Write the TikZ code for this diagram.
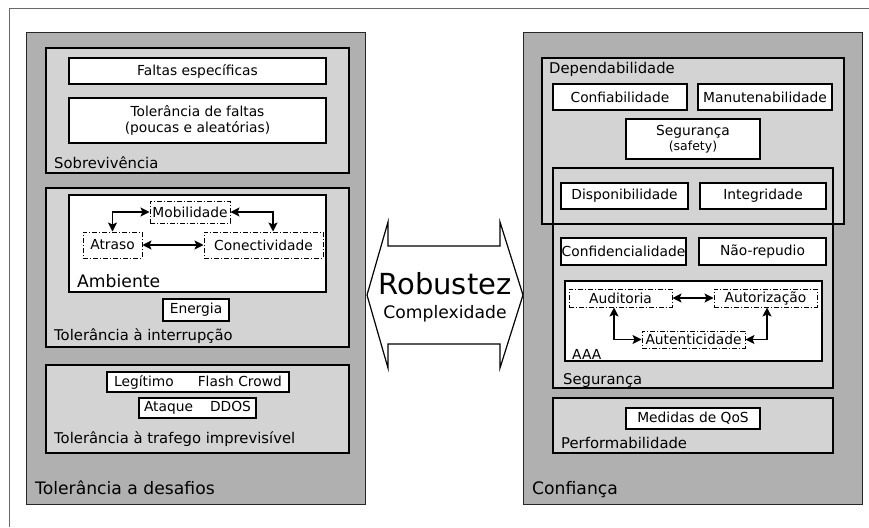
\documentclass[tikz,border=0pt]{standalone}
\usepackage{fontspec}
\setmainfont{DejaVu Sans}
\usetikzlibrary{arrows.meta}
\definecolor{darkpanel}{RGB}{176,176,176}
\definecolor{lightgroup}{RGB}{211,211,211}
\definecolor{framegray}{RGB}{105,105,105}
\newcommand\myboxfont{\fontsize{13.8}{16.5}\selectfont}
\newcommand\mylblfont{\fontsize{14.8}{17}\selectfont}
\newcommand\mybigfont{\fontsize{17.2}{20}\selectfont}
\begin{document}
\begin{tikzpicture}[x=1pt,y=-1pt,
  panel/.style={draw=black!85, line width=1pt, fill=darkpanel},
  group/.style={draw=black, line width=1.2pt, fill=lightgroup},
  groupline/.style={draw=black, line width=1.2pt},
  box/.style={draw=black, line width=1.2pt, fill=white, inner sep=0pt, font=\myboxfont, align=center},
  ddbox/.style={draw=black, line width=1pt, fill=white, dash pattern=on 5pt off 2pt on 1pt off 2pt, inner sep=0pt, font=\myboxfont},
  lbl/.style={anchor=base west, inner sep=0pt, font=\mylblfont},
  big/.style={anchor=base west, inner sep=0pt, font=\mybigfont},
  dbl/.style={{Stealth[length=9pt,width=9pt,inset=2pt]}-{Stealth[length=9pt,width=9pt,inset=2pt]}, line width=1.2pt},
]
\useasboundingbox (0,0) rectangle (869,527);
\fill[white] (0,0) rectangle (869,527);
% outer frame
\draw[framegray, line width=1pt] (9,527) -- (9,9) -- (869,9);

% ---------------- left panel
\draw[panel] (26,33) rectangle (365,504);
\draw[group] (46,48) rectangle (349,173);
\draw[group] (46,188) rectangle (349,347);
\draw[group] (46,365) rectangle (349,453);

\node[box, minimum width=257, minimum height=26] (falt) at (197.5,71) {Faltas específicas};
\node[box, minimum width=257, minimum height=45] (tolf) at (197.5,120.5) {Tolerância de faltas\\(poucas e aleatórias)};
\node[lbl] (sobr) at (54,168) {Sobrevivência};

\node[box, minimum width=257, minimum height=97] (amb) at (197.5,243.5) {};
\node[ddbox, minimum width=80, minimum height=22] (mob) at (190,212) {Mobilidade};
\node[ddbox, minimum width=59, minimum height=26] (atr) at (112.5,245) {Atraso};
\node[ddbox, minimum width=119, minimum height=26] (con) at (263.5,245) {Conectividade};
\node[big] (ambl) at (77,287.5) {Ambiente};
\draw[dbl] (mob.west) -| (atr.north);
\draw[dbl] (mob.east) -| ([xshift=9.5pt]con.north);
\draw[dbl] (atr.east) -- (con.west);
\node[box, minimum width=66, minimum height=22] (ene) at (196,310) {Energia};
\node[lbl] (inter) at (54,340) {Tolerância à interrupção};

\node[box, minimum width=182, minimum height=20] (leg) at (198,382) {Legítimo\hspace{24pt}Flash Crowd};
\node[box, minimum width=117, minimum height=20] (ata) at (197.5,408) {Ataque\hspace{17pt}DDOS};
\node[lbl] (traf) at (54,443) {Tolerância à trafego imprevisível};

\node[big] (desaf) at (35,494.5) {Tolerância a desafios};

% ---------------- middle double arrow
\draw[line width=1.2pt, fill=white, line join=miter]
  (388,222) -- (367,295) -- (388,368) -- (388,344) -- (500,344) -- (500,368)
  -- (523,295) -- (500,222) -- (500,246) -- (388,246) -- cycle;
\node[anchor=base, inner sep=0pt, font=\fontsize{29}{32}\selectfont] (rob) at (445,294) {Robustez};
\node[anchor=base, inner sep=0pt, font=\mybigfont] (cplx) at (445,318) {Complexidade};

% ---------------- right panel
\draw[panel] (523,33) rectangle (862,504);
\fill[lightgroup] (542,58) rectangle (844,224);
\fill[lightgroup] (553,168) rectangle (833,388);
\draw[groupline] (542,58) rectangle (844,224);
\draw[groupline] (553,168) rectangle (833,388);
\draw[group] (553,398) rectangle (833,453);

\node[lbl] (depl) at (549,74) {Dependabilidade};
\node[box, minimum width=134, minimum height=26] (conf) at (620,97) {Confiabilidade};
\node[box, minimum width=134, minimum height=26] (manu) at (765,97) {Manutenabilidade};
\node[box, minimum width=134, minimum height=40] (safe) at (693,139) {Segurança\\[-2pt]{\fontsize{12.5}{13}\selectfont(safety)}};
\node[box, minimum width=127, minimum height=26] (disp) at (624.5,196) {Disponibilidade};
\node[box, minimum width=126, minimum height=26] (integ) at (763,196) {Integridade};
\node[box, minimum width=125, minimum height=27] (confid) at (623.5,251.5) {\makebox[0pt]{Confidencialidade}};
\node[box, minimum width=127, minimum height=27] (nrep) at (762.5,251.5) {Não-repudio};

\node[box, minimum width=257, minimum height=80] (aaa) at (693.5,321) {};
\node[ddbox, minimum width=103, minimum height=18] (aud) at (620.5,298) {Auditoria};
\node[ddbox, minimum width=103, minimum height=18] (aut) at (765.5,298) {Autorização};
\node[ddbox, minimum width=103, minimum height=17] (atc) at (693.5,339.5) {Autenticidade};
\node[anchor=base west, inner sep=0pt, font=\myboxfont] (aaal) at (572,359) {AAA};
\draw[dbl] (aud.east) -- (aut.west);
\draw[dbl] ([xshift=-6.5pt]aud.south) |- (atc.west);
\draw[dbl] ([xshift=1.5pt]aut.south) |- (atc.east);
\node[lbl] (segl) at (563,384) {Segurança};

\node[box, minimum width=134, minimum height=21] (qos) at (693,418.5) {Medidas de QoS};
\node[lbl] (perf) at (561,448) {Performabilidade};

\node[big] (confi) at (532,494.5) {Confiança};
\end{tikzpicture}
\end{document}
